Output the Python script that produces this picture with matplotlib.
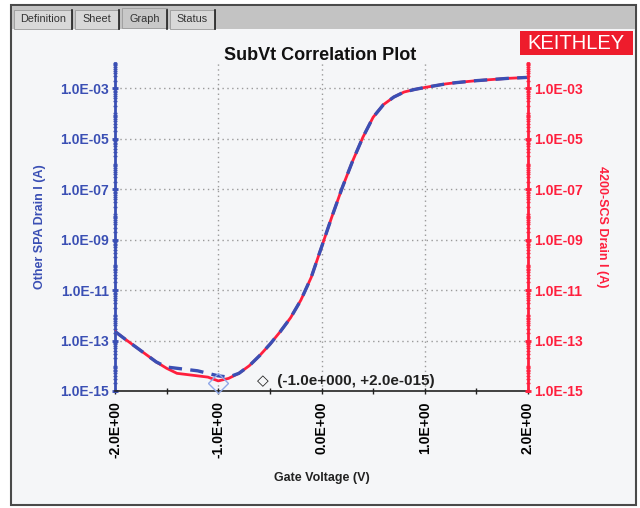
import matplotlib.pyplot as plt
import matplotlib.ticker as mticker
from matplotlib.patches import Rectangle
import numpy as np

# gate voltage sweep (V)
gate_v = [-2.0, -1.9, -1.8, -1.7, -1.6, -1.5, -1.4, -1.3, -1.2, -1.1, -1.0,
          -0.9, -0.8, -0.7, -0.6, -0.5, -0.4, -0.3, -0.2, -0.1, 0.0,
          0.1, 0.2, 0.3, 0.4, 0.5, 0.6, 0.7, 0.8, 0.9, 1.0,
          1.1, 1.2, 1.3, 1.4, 1.5, 1.6, 1.7, 1.8, 1.9, 2.0]
# log10 of drain current
log_i_4200 = [-12.64, -12.95, -13.25, -13.55, -13.85, -14.1, -14.3, -14.35, -14.4, -14.45, -14.6,
              -14.5, -14.3, -14.0, -13.6, -13.15, -12.65, -12.1, -11.4, -10.5, -9.3,
              -8.1, -6.95, -5.9, -4.95, -4.15, -3.65, -3.35, -3.15, -3.05, -2.97,
              -2.9, -2.83, -2.78, -2.74, -2.7, -2.67, -2.64, -2.61, -2.59, -2.57]
log_i_other = [-12.64, -12.95, -13.25, -13.55, -13.85, -14.05, -14.1, -14.15, -14.2, -14.3, -14.4,
               -14.45, -14.3, -14.0, -13.6, -13.15, -12.65, -12.1, -11.4, -10.5, -9.3,
               -8.1, -6.95, -5.9, -4.95, -4.15, -3.65, -3.35, -3.15, -3.05, -2.97,
               -2.9, -2.83, -2.78, -2.74, -2.7, -2.67, -2.64, -2.61, -2.59, -2.57]

x_ticks = [-2, -1, 0, 1, 2]
x_tick_labels = ["-2.0E+00", "-1.0E+00", "0.0E+00", "1.0E+00", "2.0E+00"]
y_ticks = [1e-15, 1e-13, 1e-11, 1e-9, 1e-7, 1e-5, 1e-3]
y_tick_labels = ["1.0E-15", "1.0E-13", "1.0E-11", "1.0E-09", "1.0E-07", "1.0E-05", "1.0E-03"]

cursor_v = -1.0
cursor_i = 2.0e-15

BLUE = "#3a4fb4"
RED = "#ff1f3d"

plt.rcParams['font.family'] = ['Liberation Sans', 'DejaVu Sans']

fig = plt.figure(figsize=(6.4, 5.08), dpi=100)
fig.patch.set_facecolor("#ffffff")

# window chrome (drawn behind the axes)
W, H = 640, 508
def fr(x, y, w, h, **kw):
    fig.patches.append(Rectangle((x / W, 1 - (y + h) / H), w / W, h / H,
                                 transform=fig.transFigure, zorder=-10, **kw))
fr(11, 5, 625, 500, facecolor="#f5f6f8", edgecolor="#4a4a4a", lw=1.5)
fr(12, 6, 623, 23, facecolor="#c3c3c3", edgecolor="none")
tabs = [("Definition", 14, 72), ("Sheet", 75, 119), ("Graph", 122, 167), ("Status", 170, 215)]
for name, x0, x1 in tabs:
    sel = name == "Graph"
    fr(x0, 8 if sel else 10, x1 - x0, 20 if sel else 19,
       facecolor="#c8c8c8" if sel else "#d8d8d8", edgecolor="#9a9a9a", lw=0.6)
    fig.lines.append(plt.Line2D([x1 / W, x1 / W], [1 - 10 / H, 1 - 29 / H],
                                transform=fig.transFigure, color="#202020", lw=1.2,
                                zorder=-5))
    fig.text((x0 + x1) / 2 / W, 1 - 19 / H, name, ha="center", va="center",
             fontsize=7.8, color="#333333")
fr(520, 31, 113, 24, facecolor="#ee1c2c", edgecolor="none")
fig.text(576 / W, 1 - 43.5 / H, "KEITHLEY", ha="center", va="center",
         fontsize=14.5, color="white")

ax = fig.add_axes([115 / W, 1 - 391 / H, (528 - 115) / W, (391 - 63) / H])
ax.set_facecolor("none")
ax.set_yscale("log")
ax.set_xlim(-2, 2)
ax.set_ylim(1e-15, 1e-2)

i_4200 = 10 ** np.array(log_i_4200)
i_other = 10 ** np.array(log_i_other)
ax.plot(gate_v, i_4200, color=RED, lw=2.0, zorder=3)
ax.plot(gate_v, i_other, color=BLUE, lw=2.4, ls=(0, (4, 2.5)), zorder=4)

# cursor marker and readout
ax.plot([cursor_v], [cursor_i], marker="D", ms=10, mfc="none", mec="#8fa8e8",
        mew=1.0, zorder=5, clip_on=False)
ax.annotate("\u25c7  (-1.0e+000, +2.0e-015)", xy=(-0.62, 2.5e-15), fontsize=11,
            fontweight="bold", color="#222222", va="center", ha="left")

ax.set_xticks(x_ticks)
ax.set_xticklabels(x_tick_labels, rotation=90, fontsize=10, fontweight="bold")
ax.xaxis.set_minor_locator(mticker.FixedLocator([-1.5, -0.5, 0.5, 1.5]))
ax.tick_params(axis="x", which="both", direction="inout", length=5, width=1,
               color="#222222", pad=5)

ax.set_yticks(y_ticks)
ax.set_yticklabels(y_tick_labels, fontsize=10, fontweight="bold", color=BLUE)
ax.yaxis.set_minor_locator(mticker.LogLocator(base=10, subs=np.arange(1, 10), numticks=40))
ax.yaxis.set_minor_formatter(mticker.NullFormatter())
ax.tick_params(axis="y", which="major", direction="inout", length=5, width=2,
               color=BLUE, pad=2)
ax.tick_params(axis="y", which="minor", direction="inout", length=3, width=1, color=BLUE)

for xv in [-1, 0, 1]:
    ax.axvline(xv, color="#9a9a9a", ls=(0, (1, 2.5)), lw=1, zorder=1)
for yv in y_ticks[1:]:
    ax.axhline(yv, color="#9a9a9a", ls=(0, (1, 2.5)), lw=1, zorder=1)

ax.spines["top"].set_visible(False)
ax.spines["right"].set_visible(False)
ax.spines["left"].set_color(BLUE)
ax.spines["left"].set_linewidth(2)
ax.spines["bottom"].set_color("#222222")
ax.spines["bottom"].set_linewidth(1.2)

ax2 = ax.twinx()
ax2.set_yscale("log")
ax2.set_ylim(1e-15, 1e-2)
ax2.set_yticks(y_ticks)
ax2.set_yticklabels(y_tick_labels, fontsize=10, fontweight="bold", color=RED)
ax2.yaxis.set_minor_locator(mticker.LogLocator(base=10, subs=np.arange(1, 10), numticks=40))
ax2.yaxis.set_minor_formatter(mticker.NullFormatter())
ax2.tick_params(axis="y", which="major", direction="inout", length=5, width=2,
                color=RED, pad=2)
ax2.tick_params(axis="y", which="minor", direction="inout", length=3, width=1, color=RED)
for s in ["top", "left", "bottom"]:
    ax2.spines[s].set_visible(False)
ax2.spines["right"].set_color(RED)
ax2.spines["right"].set_linewidth(2)

ax.set_ylabel("Other SPA Drain I (A)", color=BLUE, fontsize=9, fontweight="bold",
              labelpad=10)
ax2.set_ylabel("4200-SCS Drain I (A)", color=RED, fontsize=9, fontweight="bold",
               rotation=-90, labelpad=18)
ax.set_xlabel("Gate Voltage (V)", fontsize=9, fontweight="bold", labelpad=10,
              color="#222222")
fig.text(320 / W, 1 - 55 / H, "SubVt Correlation Plot", ha="center", va="center",
         fontsize=13, fontweight="bold", color="#111111")

plt.savefig("out.png", dpi=100)
